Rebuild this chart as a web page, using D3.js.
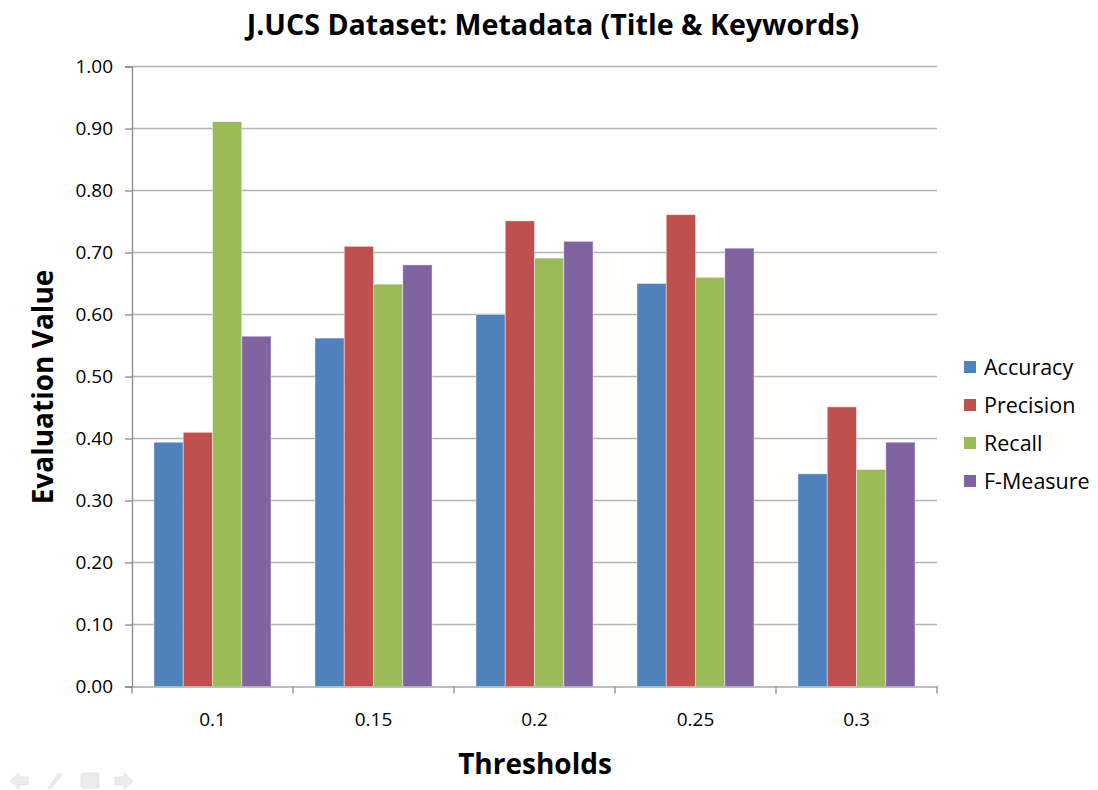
<!DOCTYPE html>
<html>
<head>
<meta charset="utf-8">
<script src="https://cdn.jsdelivr.net/npm/d3@7"></script>
<style>
  html, body { margin: 0; padding: 0; background: #fff; }
  svg { display: block; }
  text { font-family: "Open Sans", "Noto Sans", sans-serif; }
</style>
</head>
<body>
<svg id="chart" width="1098" height="790"></svg>
<script>
// Threshold categories and evaluation series
const thresholds = ["0.1", "0.15", "0.2", "0.25", "0.3"];
const seriesNames = ["Accuracy", "Precision", "Recall", "F-Measure"];
const accuracy  = [0.394, 0.562, 0.600, 0.650, 0.343];
const precision = [0.410, 0.710, 0.751, 0.761, 0.451];
const recall    = [0.911, 0.649, 0.691, 0.660, 0.350];
const fMeasure  = [0.565, 0.680, 0.718, 0.707, 0.394];
const yTicks = [0, 0.1, 0.2, 0.3, 0.4, 0.5, 0.6, 0.7, 0.8, 0.9, 1.0];
const seriesColors = ["#4F81BD", "#C0504D", "#9BBB59", "#8064A2"];

const seriesValues = [accuracy, precision, recall, fMeasure];

const svg = d3.select("#chart");
const plot = { left: 132, right: 937, top: 66.5, bottom: 686.5 };

const x = d3.scaleBand().domain(thresholds).range([plot.left, plot.right]).paddingInner(0).paddingOuter(0);
const gapFrac = 1.5 / 5.5; // gap width 150% of one bar
const x1 = d3.scaleBand().domain(seriesNames)
  .range([x.bandwidth() * gapFrac / 2, x.bandwidth() * (1 - gapFrac / 2)]);
const y = d3.scaleLinear().domain([0, 1]).range([plot.bottom, plot.top]);

// Horizontal gridlines
svg.append("g")
  .selectAll("line")
  .data(yTicks.slice(1))
  .join("line")
  .attr("x1", plot.left).attr("x2", plot.right)
  .attr("y1", d => y(d)).attr("y2", d => y(d))
  .attr("stroke", "#b4b4b4").attr("stroke-width", 1.6);

// Bars
const groups = svg.append("g")
  .selectAll("g")
  .data(thresholds)
  .join("g")
  .attr("transform", d => `translate(${x(d)},0)`);

groups.selectAll("rect")
  .data((d, i) => seriesNames.map((s, j) => ({ s, j, v: seriesValues[j][i] })))
  .join("rect")
  .attr("x", d => x1(d.s))
  .attr("width", x1.bandwidth())
  .attr("y", d => y(d.v))
  .attr("height", d => y(0) - y(d.v))
  .attr("fill", d => seriesColors[d.j])
  .attr("stroke", "rgba(255,255,255,0.55)")
  .attr("stroke-width", 0.8);

// Y axis
const yAxis = d3.axisLeft(y).tickValues(yTicks).tickFormat(d3.format(".2f")).tickSize(7).tickPadding(12);
const gy = svg.append("g").attr("transform", `translate(${plot.left},0)`).call(yAxis);
gy.select(".domain").attr("stroke", "#8a8a8a").attr("stroke-width", 1.3);
gy.selectAll(".tick line").attr("stroke", "#8a8a8a").attr("stroke-width", 1.3);
gy.selectAll(".tick text").attr("font-size", 19).attr("fill", "#000")
  .style("font-family", "'Open Sans', sans-serif");

// X axis
const xAxis = d3.axisBottom(x).tickSize(0).tickPadding(26);
const gx = svg.append("g").attr("transform", `translate(0,${plot.bottom})`).call(xAxis);
gx.select(".domain").attr("stroke", "#a8a8a8").attr("stroke-width", 1.6);
gx.selectAll(".tick text").attr("font-size", 19).attr("fill", "#000")
  .style("font-family", "'Open Sans', sans-serif");
// Category boundary tick marks
gx.append("g").selectAll("line")
  .data(d3.range(thresholds.length + 1))
  .join("line")
  .attr("x1", i => plot.left + i * x.bandwidth())
  .attr("x2", i => plot.left + i * x.bandwidth())
  .attr("y1", 0).attr("y2", 7)
  .attr("stroke", "#8a8a8a").attr("stroke-width", 1.3);

// Title
svg.append("text")
  .attr("x", 553).attr("y", 35)
  .attr("text-anchor", "middle")
  .attr("font-size", 28.6).attr("font-weight", 700)
  .text("J.UCS Dataset: Metadata (Title & Keywords)");

// Axis titles
svg.append("text")
  .attr("x", 535).attr("y", 774)
  .attr("text-anchor", "middle")
  .attr("font-size", 28).attr("font-weight", 700)
  .text("Thresholds");

svg.append("text")
  .attr("transform", "translate(53,387) rotate(-90)")
  .attr("text-anchor", "middle")
  .attr("font-size", 28).attr("font-weight", 700)
  .text("Evaluation Value");

// Legend
const legend = svg.append("g").attr("transform", "translate(964,367)");
const item = legend.selectAll("g")
  .data(seriesNames)
  .join("g")
  .attr("transform", (d, i) => `translate(0,${i * 38})`);
item.append("rect")
  .attr("x", 0).attr("y", -6).attr("width", 12).attr("height", 12)
  .attr("fill", (d, i) => seriesColors[i]);
item.append("text")
  .attr("x", 20).attr("y", 7.5)
  .attr("font-size", 21.5)
  .text(d => d);

// Faint slide navigation glyphs, bottom left
const nav = svg.append("g").attr("fill", "#ececec").attr("stroke", "#e0e0e0").attr("stroke-width", 0.8);
nav.append("path").attr("d", "M10,781 L19,773 L19,777 L28,777 L28,785 L19,785 L19,789 Z");
nav.append("path").attr("d", "M48,788 L58,774 L62,774 L52,788 Z");
nav.append("rect").attr("x", 81).attr("y", 773).attr("width", 18).attr("height", 15).attr("rx", 2);
nav.append("path").attr("d", "M133,781 L124,773 L124,777 L115,777 L115,785 L124,785 L124,789 Z");
</script>
</body>
</html>
